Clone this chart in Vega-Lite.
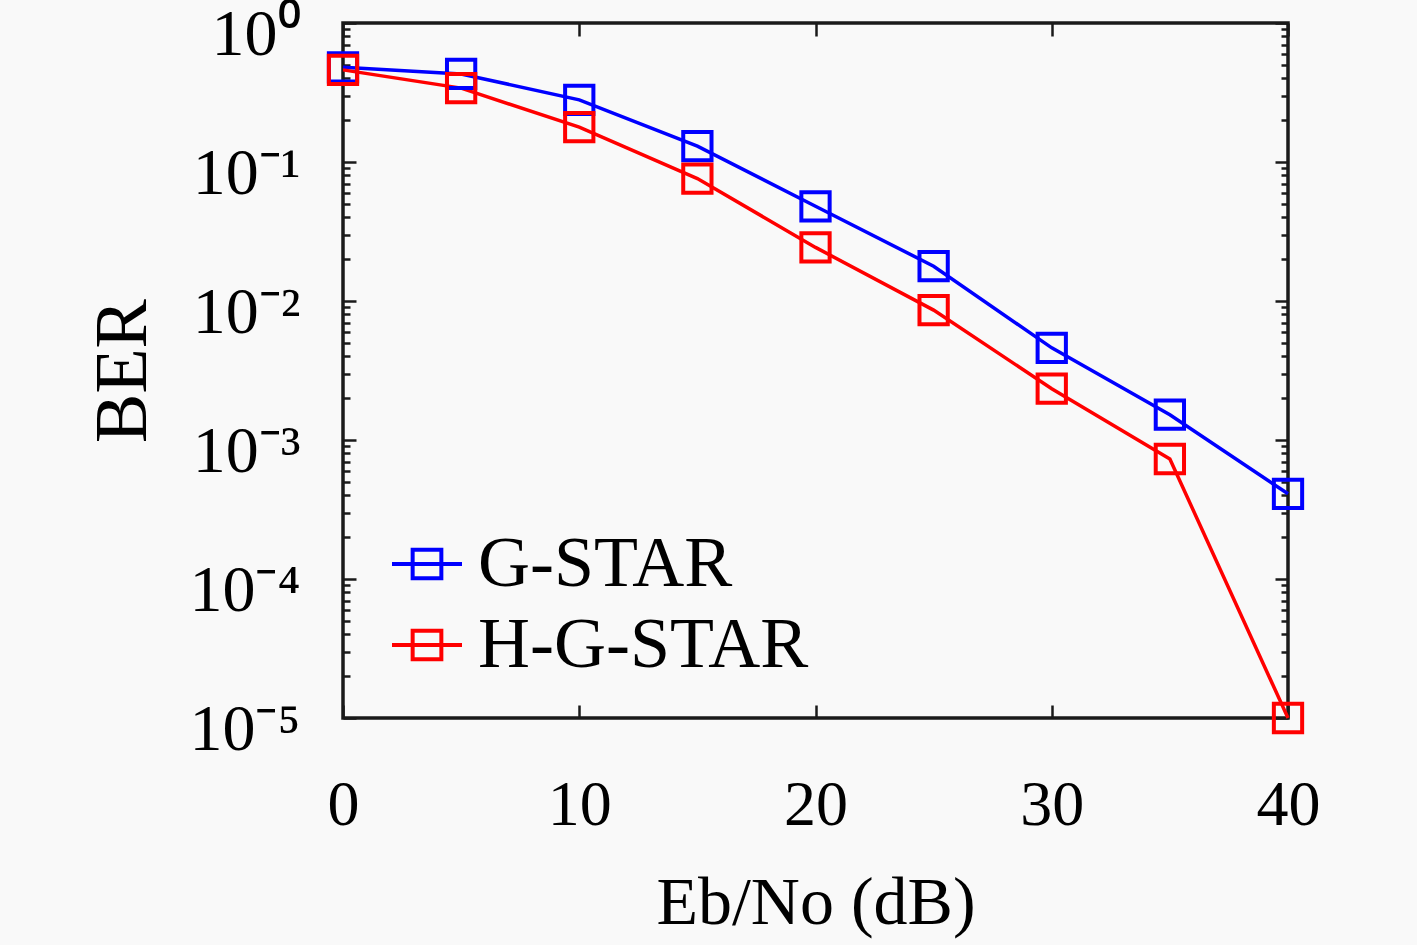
{
  "$schema": "https://vega.github.io/schema/vega-lite/v6.json",
  "width": 945,
  "height": 695,
  "autosize": {"type": "none"},
  "padding": {"left": 343, "top": 23, "right": 129, "bottom": 227},
  "background": "#f9f9f9",
  "config": {
    "font": "Liberation Serif",
    "view": {"stroke": "#1a1a1a", "strokeWidth": 3.5},
    "axis": {
      "domain": false,
      "grid": false,
      "labelFlush": false,
      "tickColor": "#1a1a1a",
      "tickWidth": 2.5,
      "labelColor": "black",
      "titleColor": "black",
      "labelFont": "Liberation Serif",
      "titleFont": "Liberation Serif",
      "titleFontWeight": "normal"
    }
  },
  "data": {
    "values": [
      {"snr": 0, "ber": 0.48, "scheme": "G-STAR"},
      {"snr": 5, "ber": 0.43, "scheme": "G-STAR"},
      {"snr": 10, "ber": 0.28, "scheme": "G-STAR"},
      {"snr": 15, "ber": 0.13, "scheme": "G-STAR"},
      {"snr": 20, "ber": 0.048, "scheme": "G-STAR"},
      {"snr": 25, "ber": 0.0178, "scheme": "G-STAR"},
      {"snr": 30, "ber": 0.0046, "scheme": "G-STAR"},
      {"snr": 35, "ber": 0.00152, "scheme": "G-STAR"},
      {"snr": 40, "ber": 0.00041, "scheme": "G-STAR"},
      {"snr": 0, "ber": 0.46, "scheme": "H-G-STAR"},
      {"snr": 5, "ber": 0.34, "scheme": "H-G-STAR"},
      {"snr": 10, "ber": 0.178, "scheme": "H-G-STAR"},
      {"snr": 15, "ber": 0.076, "scheme": "H-G-STAR"},
      {"snr": 20, "ber": 0.0243, "scheme": "H-G-STAR"},
      {"snr": 25, "ber": 0.0086, "scheme": "H-G-STAR"},
      {"snr": 30, "ber": 0.00234, "scheme": "H-G-STAR"},
      {"snr": 35, "ber": 0.00073, "scheme": "H-G-STAR"},
      {"snr": 40, "ber": 0.00001, "scheme": "H-G-STAR"}
    ]
  },
  "layer": [
    {
      "mark": {
        "type": "line",
        "strokeWidth": 3.5,
        "point": {"shape": "square", "filled": false, "size": 800, "strokeWidth": 4}
      },
      "encoding": {
        "x": {
          "field": "snr",
          "type": "quantitative",
          "scale": {"domain": [0, 40], "nice": false},
          "axis": {
            "orient": "bottom",
            "values": [0, 10, 20, 30, 40],
            "tickSize": -13,
            "labelFontSize": 64,
            "labelPadding": 68,
            "title": "Eb/No (dB)",
            "titleFontSize": 68,
            "titlePadding": 32
          }
        },
        "y": {
          "field": "ber",
          "type": "quantitative",
          "scale": {"type": "log", "domain": [0.00001, 1], "nice": false},
          "axis": {
            "orient": "left",
            "values": [0.00001, 0.00002, 0.00003, 0.00004, 0.00005, 0.00006, 0.00007, 0.00008, 0.00009,
                       0.0001, 0.0002, 0.0003, 0.0004, 0.0005, 0.0006, 0.0007, 0.0008, 0.0009,
                       0.001, 0.002, 0.003, 0.004, 0.005, 0.006, 0.007, 0.008, 0.009,
                       0.01, 0.02, 0.03, 0.04, 0.05, 0.06, 0.07, 0.08, 0.09,
                       0.1, 0.2, 0.3, 0.4, 0.5, 0.6, 0.7, 0.8, 0.9, 1],
            "tickSize": {"condition": {"test": "abs(log(datum.value)/LN10 - round(log(datum.value)/LN10)) < 0.001", "value": -13}, "value": -7},
            "labelExpr": "abs(log(datum.value)/LN10 - round(log(datum.value)/LN10)) < 0.001 ? '10' + ['⁰','⁻¹','⁻²','⁻³','⁻⁴','⁻⁵'][-round(log(datum.value)/LN10)] : ''",
            "labelOverlap": false,
            "labelBound": false,
            "labelFontSize": 66,
            "labelPadding": 56,
            "labelOffset": 11,
            "title": "BER",
            "titleFontSize": 74,
            "titlePadding": 27
          }
        },
        "color": {
          "field": "scheme",
          "type": "nominal",
          "scale": {"domain": ["G-STAR", "H-G-STAR"], "range": ["#0000ff", "#ff0000"]},
          "legend": {
            "title": null,
            "orient": "none",
            "legendX": 47,
            "legendY": 504,
            "padding": 0,
            "symbolType": "M-1,0H1M-0.41,-0.41H0.41V0.41H-0.41Z",
            "symbolSize": 4900,
            "symbolStrokeWidth": 4,
            "symbolFillColor": "transparent",
            "labelFontSize": 72,
            "labelLimit": 0,
            "labelFont": "Liberation Serif",
            "labelColor": "black",
            "labelOffset": 14,
            "rowPadding": 8
          }
        }
      }
    },
    {
      "mark": {"type": "point", "opacity": 0},
      "encoding": {
        "x": {
          "field": "snr",
          "type": "quantitative",
          "axis": {
            "orient": "top",
            "values": [0, 10, 20, 30, 40],
            "tickSize": -13,
            "labels": false,
            "title": null
          }
        },
        "y": {
          "field": "ber",
          "type": "quantitative",
          "axis": {
            "orient": "right",
            "values": [0.00001, 0.00002, 0.00003, 0.00004, 0.00005, 0.00006, 0.00007, 0.00008, 0.00009,
                       0.0001, 0.0002, 0.0003, 0.0004, 0.0005, 0.0006, 0.0007, 0.0008, 0.0009,
                       0.001, 0.002, 0.003, 0.004, 0.005, 0.006, 0.007, 0.008, 0.009,
                       0.01, 0.02, 0.03, 0.04, 0.05, 0.06, 0.07, 0.08, 0.09,
                       0.1, 0.2, 0.3, 0.4, 0.5, 0.6, 0.7, 0.8, 0.9, 1],
            "tickSize": {"condition": {"test": "abs(log(datum.value)/LN10 - round(log(datum.value)/LN10)) < 0.001", "value": -13}, "value": -7},
            "labels": false,
            "title": null
          }
        }
      }
    }
  ],
  "resolve": {"axis": {"x": "independent", "y": "independent"}}
}
